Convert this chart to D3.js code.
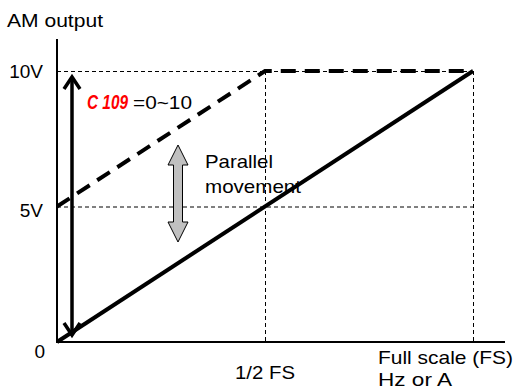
<!DOCTYPE html>
<html><head><meta charset="utf-8">
<script src="https://cdn.jsdelivr.net/npm/d3@7"></script>
<style>body{margin:0;background:#fff}svg{display:block}text{font-family:"Liberation Sans",Arial,sans-serif;fill:#000}</style>
</head><body><svg id="c" width="515" height="390"></svg>
<script>
// data
const xTickVals = [0, 0.5, 1];
const xTickLabels = ["0", "1/2 FS", "Full scale (FS)"];
const yTickVals = [0, 5, 10];
const yTickLabels = ["0", "5V", "10V"];
const solidX = [0, 1];
const solidY = [0, 10];
const dashedX = [0, 0.5, 1];
const dashedY = [5, 10, 10];
const gainRange = [0, 10];       // C109 = 0~10

const svg = d3.select("#c");
const x = d3.scaleLinear().domain([0, 1]).range([57, 473]);
const y = d3.scaleLinear().domain([0, 10]).range([342, 71]);

// grid lines (thin dashed)
const g = svg.append("g").attr("stroke", "#000").attr("stroke-width", 1).attr("stroke-dasharray", "4,3").attr("fill", "none");
[5, 10].forEach(v => g.append("line").attr("x1", x(0)).attr("x2", x(1)).attr("y1", y(v)+0.5).attr("y2", y(v)+0.5));
[0.5, 1].forEach(v => g.append("line").attr("x1", x(v)+0.5).attr("x2", x(v)+0.5).attr("y1", y(10)).attr("y2", y(0)));

// axes
svg.append("line").attr("x1", x(0)).attr("x2", x(0)).attr("y1", 39).attr("y2", y(0)+1).attr("stroke", "#000").attr("stroke-width", 2);
svg.append("line").attr("x1", x(0)).attr("x2", 505).attr("y1", y(0)).attr("y2", y(0)).attr("stroke", "#000").attr("stroke-width", 2);

// solid line
const line = d3.line().x(d => x(d[0])).y(d => y(d[1]));
svg.append("path").attr("d", line(d3.zip(solidX, solidY))).attr("stroke", "#000").attr("stroke-width", 4).attr("fill", "none");
// dashed line
svg.append("path").attr("d", line(d3.zip(dashedX, dashedY))).attr("stroke", "#000").attr("stroke-width", 4).attr("fill", "none").attr("stroke-dasharray", "15,9");

// black double arrow (C109 gain range)
const ax = 72;
const yTop = y(gainRange[1]) + 6, yBot = y(gainRange[0]) - 7;
const ag = svg.append("g").attr("stroke", "#000").attr("fill", "none").attr("stroke-width", 3.5);
ag.append("line").attr("x1", ax).attr("x2", ax).attr("y1", yTop + 1).attr("y2", yBot - 1);
ag.append("path").attr("d", `M${ax-8},${yTop+12}L${ax},${yTop}L${ax+8},${yTop+12}`);
ag.append("path").attr("d", `M${ax-8},${yBot-12}L${ax},${yBot}L${ax+8},${yBot-12}`);

// gray double arrow (parallel movement)
const gx = 178, gt = 145, gb = 242, hw = 10, hh = 20, sw = 4.5;
svg.append("path")
  .attr("d", `M${gx},${gt}L${gx+hw},${gt+hh}L${gx+sw},${gt+hh}L${gx+sw},${gb-hh}L${gx+hw},${gb-hh}L${gx},${gb}L${gx-hw},${gb-hh}L${gx-sw},${gb-hh}L${gx-sw},${gt+hh}L${gx-hw},${gt+hh}Z`)
  .attr("fill", "#c0c0c0").attr("stroke", "#000").attr("stroke-width", 1);

// labels
const fs = 19;
svg.append("text").attr("x", 7).attr("y", 27).attr("font-size", fs).attr("textLength", 96).attr("lengthAdjust", "spacingAndGlyphs").text("AM output");
svg.append("text").attr("x", 43).attr("y", y(10) + 7).attr("font-size", fs).attr("text-anchor", "end").text(yTickLabels[2]);
svg.append("text").attr("x", 43).attr("y", y(5) + 10).attr("font-size", fs).attr("text-anchor", "end").text(yTickLabels[1]);
svg.append("text").attr("x", 45).attr("y", y(0) + 16).attr("font-size", fs).attr("text-anchor", "end").text(yTickLabels[0]);
svg.append("text").attr("x", x(xTickVals[1])).attr("y", 379).attr("font-size", fs).attr("text-anchor", "middle").attr("textLength", 60).attr("lengthAdjust", "spacingAndGlyphs").text(xTickLabels[1]);
svg.append("text").attr("x", 378).attr("y", 364).attr("font-size", fs).attr("textLength", 135).attr("lengthAdjust", "spacingAndGlyphs").text(xTickLabels[2]);
svg.append("text").attr("x", 378).attr("y", 386).attr("font-size", fs).attr("textLength", 74).attr("lengthAdjust", "spacingAndGlyphs").text("Hz or A");
svg.append("text").attr("x", 205).attr("y", 168).attr("font-size", fs).attr("textLength", 68).attr("lengthAdjust", "spacingAndGlyphs").text("Parallel");
svg.append("text").attr("x", 205).attr("y", 193).attr("font-size", fs).attr("textLength", 96).attr("lengthAdjust", "spacingAndGlyphs").text("movement");
svg.append("text").attr("x", 87).attr("y", 109).attr("font-size", 20).attr("font-style", "italic").attr("font-weight", "bold")
  .style("fill", "#ff0000").attr("textLength", 41).attr("lengthAdjust", "spacingAndGlyphs").attr("font-family", "'Liberation Sans Narrow','DejaVu Sans Condensed',sans-serif").text("C 109");
svg.append("text").attr("x", 133).attr("y", 109).attr("font-size", fs).attr("textLength", 59).attr("lengthAdjust", "spacingAndGlyphs").text(`=${gainRange[0]}~${gainRange[1]}`);
</script></body></html>
